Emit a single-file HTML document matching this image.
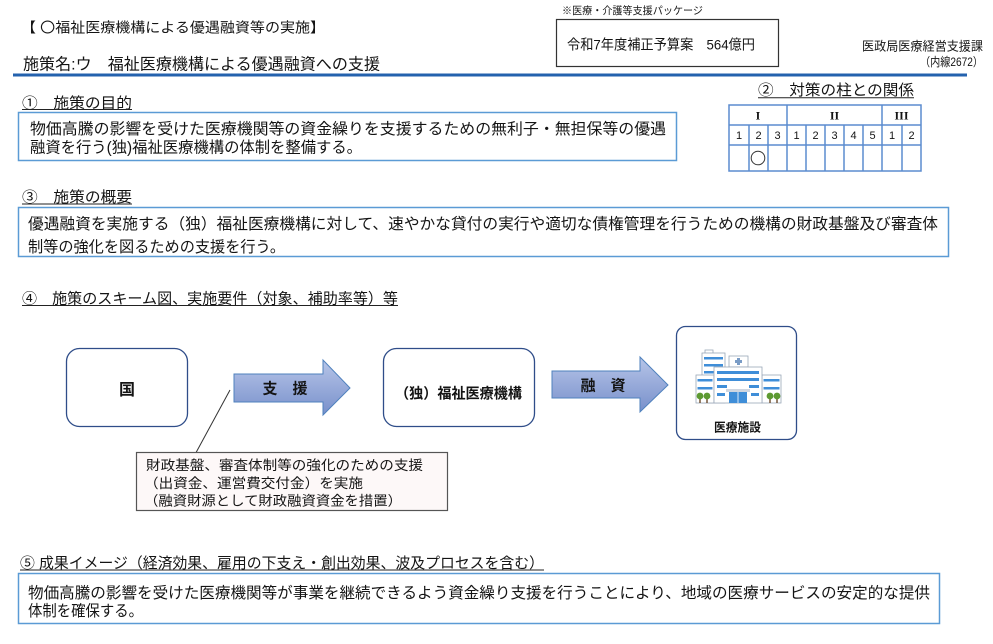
<!DOCTYPE html>
<html><head><meta charset="utf-8">
<style>
html,body{margin:0;padding:0;background:#fff;}
svg{display:block;}
text{font-family:"Liberation Sans","Noto Sans CJK JP",sans-serif;fill:#141414;}
.b{font-weight:bold;}
.serif{font-family:"Liberation Serif","Noto Serif CJK SC",serif;}
</style></head>
<body>
<svg width="993" height="644" viewBox="0 0 993 644" xmlns="http://www.w3.org/2000/svg">
<defs>
<linearGradient id="ag" x1="0" y1="0" x2="0" y2="1">
<stop offset="0" stop-color="#b7c5e8"/>
<stop offset="1" stop-color="#7890cb"/>
</linearGradient>
</defs>

<!-- Header -->
<text x="21" y="32.5" font-size="14" textLength="304" lengthAdjust="spacingAndGlyphs">【 〇福祉医療機構による優遇融資等の実施】</text>
<text x="23" y="69.5" font-size="16" textLength="357" lengthAdjust="spacingAndGlyphs">施策名:ウ　福祉医療機構による優遇融資への支援</text>
<line x1="13" y1="75" x2="967" y2="75" stroke="#2462ae" stroke-width="3"/>

<text x="562" y="14" font-size="10.5" textLength="141" lengthAdjust="spacingAndGlyphs">※医療・介護等支援パッケージ</text>
<rect x="556.5" y="19.5" width="222" height="47" fill="none" stroke="#333" stroke-width="1.2"/>
<text x="567" y="49.5" font-size="14" textLength="188" lengthAdjust="spacingAndGlyphs">令和7年度補正予算案　564億円</text>
<text x="862" y="50.5" font-size="12.5" textLength="121" lengthAdjust="spacingAndGlyphs">医政局医療経営支援課</text>
<text x="920" y="66" font-size="12" textLength="63" lengthAdjust="spacingAndGlyphs">（内線2672）</text>

<!-- Section 1 -->
<text x="22" y="108" font-size="15" textLength="110" lengthAdjust="spacingAndGlyphs">①　施策の目的</text>
<line x1="22" y1="109.5" x2="132" y2="109.5" stroke="#222" stroke-width="1"/>
<rect x="18.5" y="112.5" width="658" height="48" fill="none" stroke="#5b9bd5" stroke-width="1.5"/>
<text x="30" y="133.8" font-size="15.5" textLength="636" lengthAdjust="spacingAndGlyphs">物価高騰の影響を受けた医療機関等の資金繰りを支援するための無利子・無担保等の優遇</text>
<text x="30" y="152.5" font-size="15.5" textLength="332" lengthAdjust="spacingAndGlyphs">融資を行う(独)福祉医療機構の体制を整備する。</text>

<!-- Section 2 -->
<text x="758" y="95" font-size="15" textLength="156" lengthAdjust="spacingAndGlyphs">②　対策の柱との関係</text>
<line x1="758" y1="97.8" x2="914" y2="97.8" stroke="#222" stroke-width="1"/>
<g stroke="#5b8ccf" stroke-width="1.5" fill="none">
<rect x="729" y="105" width="192" height="66"/>
<line x1="729" y1="125" x2="921" y2="125"/>
<line x1="729" y1="145" x2="921" y2="145"/>
<line x1="787" y1="105" x2="787" y2="171"/>
<line x1="882" y1="105" x2="882" y2="171"/>
<line x1="749" y1="125" x2="749" y2="171"/>
<line x1="768" y1="125" x2="768" y2="171"/>
<line x1="806" y1="125" x2="806" y2="171"/>
<line x1="825" y1="125" x2="825" y2="171"/>
<line x1="844" y1="125" x2="844" y2="171"/>
<line x1="863" y1="125" x2="863" y2="171"/>
<line x1="902" y1="125" x2="902" y2="171"/>
</g>
<g font-size="12" text-anchor="middle" class="b">
<text class="serif b" x="758" y="119.5">I</text>
<text class="serif b" x="834.5" y="119.5">II</text>
<text class="serif b" x="901.5" y="119.5">III</text>
</g>
<g font-size="11" text-anchor="middle">
<text x="739" y="139">1</text>
<text x="758.5" y="139">2</text>
<text x="777.5" y="139">3</text>
<text x="796.5" y="139">1</text>
<text x="815.5" y="139">2</text>
<text x="834.5" y="139">3</text>
<text x="853.5" y="139">4</text>
<text x="872.5" y="139">5</text>
<text x="892" y="139">1</text>
<text x="911.5" y="139">2</text>
</g>
<circle cx="758" cy="158" r="6.8" fill="none" stroke="#333" stroke-width="1"/>

<!-- Section 3 -->
<text x="22" y="202" font-size="15" textLength="110" lengthAdjust="spacingAndGlyphs">③　施策の概要</text>
<line x1="22" y1="204" x2="132" y2="204" stroke="#222" stroke-width="1"/>
<rect x="18.5" y="207.5" width="930" height="49" fill="none" stroke="#5b9bd5" stroke-width="1.5"/>
<text x="28" y="228.8" font-size="15.5" textLength="910" lengthAdjust="spacingAndGlyphs">優遇融資を実施する（独）福祉医療機構に対して、速やかな貸付の実行や適切な債権管理を行うための機構の財政基盤及び審査体</text>
<text x="28" y="251.8" font-size="15.5" textLength="257" lengthAdjust="spacingAndGlyphs">制等の強化を図るための支援を行う。</text>

<!-- Section 4 -->
<text x="22" y="303.5" font-size="15" textLength="376" lengthAdjust="spacingAndGlyphs">④　施策のスキーム図、実施要件（対象、補助率等）等</text>
<line x1="22" y1="305.5" x2="398" y2="305.5" stroke="#222" stroke-width="1"/>

<!-- 国 -->
<rect x="66.5" y="348.5" width="121" height="78" rx="13" fill="#fff" stroke="#2f4d89" stroke-width="1.3"/>
<text x="127" y="395" font-size="16" class="b" text-anchor="middle">国</text>

<!-- arrow 1 -->
<polygon points="234,374 323,374 323,360 350,388 323,415 323,402 234,402" fill="url(#ag)" stroke="#4f81bd" stroke-width="1"/>
<text x="285" y="393.5" font-size="15" class="b" text-anchor="middle">支　援</text>

<!-- 独 box -->
<rect x="383.5" y="348.5" width="151" height="78" rx="13" fill="#fff" stroke="#2f4d89" stroke-width="1.3"/>
<text x="395" y="398.3" font-size="14.5" class="b" textLength="127" lengthAdjust="spacingAndGlyphs">（独）福祉医療機構</text>

<!-- arrow 2 -->
<polygon points="552,371 640,371 640,357 668,385 640,412 640,398 552,398" fill="url(#ag)" stroke="#4f81bd" stroke-width="1"/>
<text x="603" y="390.5" font-size="15" class="b" text-anchor="middle">融　資</text>

<!-- medical box -->
<rect x="676.5" y="326.5" width="120" height="113" rx="9" fill="#fff" stroke="#2f4d89" stroke-width="1.3"/>
<!-- hospital -->
<g>
<rect x="705" y="350" width="8" height="3.5" fill="#fff" stroke="#9aa7b8" stroke-width="0.8"/>
<rect x="702" y="353" width="23" height="50" fill="#fff" stroke="#9aa7b8" stroke-width="0.8"/>
<rect x="704" y="357" width="19" height="2.5" fill="#3f8ed8"/>
<rect x="704" y="364" width="19" height="2.5" fill="#3f8ed8"/>
<rect x="704" y="371" width="19" height="2.5" fill="#3f8ed8"/>
<rect x="729" y="356" width="19" height="11" fill="#fff" stroke="#9aa7b8" stroke-width="0.8"/>
<rect x="737" y="358" width="3" height="7" fill="#7a9cc6"/>
<rect x="735" y="360" width="7" height="3" fill="#7a9cc6"/>
<rect x="696" y="375" width="18" height="28" fill="#fff" stroke="#9aa7b8" stroke-width="0.8"/>
<rect x="697.5" y="379" width="15" height="2.5" fill="#3f8ed8"/>
<rect x="697.5" y="387" width="15" height="2.5" fill="#3f8ed8"/>
<rect x="762" y="375" width="19" height="28" fill="#fff" stroke="#9aa7b8" stroke-width="0.8"/>
<rect x="763.5" y="379" width="16" height="2.5" fill="#3f8ed8"/>
<rect x="763.5" y="387" width="16" height="2.5" fill="#3f8ed8"/>
<rect x="714" y="367" width="48" height="36" fill="#fff" stroke="#9aa7b8" stroke-width="0.8"/>
<rect x="717" y="371" width="42" height="3" fill="#3f8ed8"/>
<rect x="717" y="378" width="42" height="3" fill="#3f8ed8"/>
<rect x="717" y="385" width="10" height="3" fill="#3f8ed8"/>
<rect x="749" y="385" width="10" height="3" fill="#3f8ed8"/>
<rect x="717" y="393" width="8" height="3" fill="#3f8ed8"/>
<rect x="751" y="393" width="8" height="3" fill="#3f8ed8"/>
<rect x="726" y="389" width="24" height="3" fill="#cfd6e0"/>
<rect x="729" y="392" width="18" height="11" fill="#3f8ed8"/>
<line x1="738" y1="392" x2="738" y2="403" stroke="#fff" stroke-width="0.8"/>
<g fill="#6b4a2a">
<rect x="699.3" y="397" width="1.4" height="6"/>
<rect x="706.3" y="397" width="1.4" height="6"/>
<rect x="769.3" y="397" width="1.4" height="6"/>
<rect x="776.3" y="397" width="1.4" height="6"/>
</g>
<g fill="#5d9a32">
<circle cx="700" cy="396" r="3.4"/>
<circle cx="707" cy="396" r="3.4"/>
<circle cx="770" cy="396" r="3.4"/>
<circle cx="777" cy="396" r="3.4"/>
</g>
</g>
<text x="714" y="431.5" font-size="12" class="b" textLength="47" lengthAdjust="spacingAndGlyphs">医療施設</text>

<!-- callout -->
<line x1="230" y1="390" x2="192" y2="460" stroke="#333" stroke-width="1"/>
<rect x="136.5" y="452.5" width="311" height="58" fill="#fdf8f8" stroke="#555" stroke-width="1.2"/>
<text x="146" y="470" font-size="13.5" textLength="277" lengthAdjust="spacingAndGlyphs">財政基盤、審査体制等の強化のための支援</text>
<text x="144" y="488" font-size="13.5" textLength="219" lengthAdjust="spacingAndGlyphs">（出資金、運営費交付金）を実施</text>
<text x="144" y="505.5" font-size="13.5" textLength="258" lengthAdjust="spacingAndGlyphs">（融資財源として財政融資資金を措置）</text>

<!-- Section 5 -->
<text x="20" y="568" font-size="15" textLength="524" lengthAdjust="spacingAndGlyphs">⑤ 成果イメージ（経済効果、雇用の下支え・創出効果、波及プロセスを含む）</text>
<line x1="20" y1="570" x2="544" y2="570" stroke="#222" stroke-width="1"/>
<rect x="18.5" y="573.5" width="921" height="50" fill="none" stroke="#5b9bd5" stroke-width="1.5"/>
<text x="28" y="597.8" font-size="15.5" textLength="902" lengthAdjust="spacingAndGlyphs">物価高騰の影響を受けた医療機関等が事業を継続できるよう資金繰り支援を行うことにより、地域の医療サービスの安定的な提供</text>
<text x="28" y="615.8" font-size="15.5" textLength="115" lengthAdjust="spacingAndGlyphs">体制を確保する。</text>
</svg>
</body></html>
